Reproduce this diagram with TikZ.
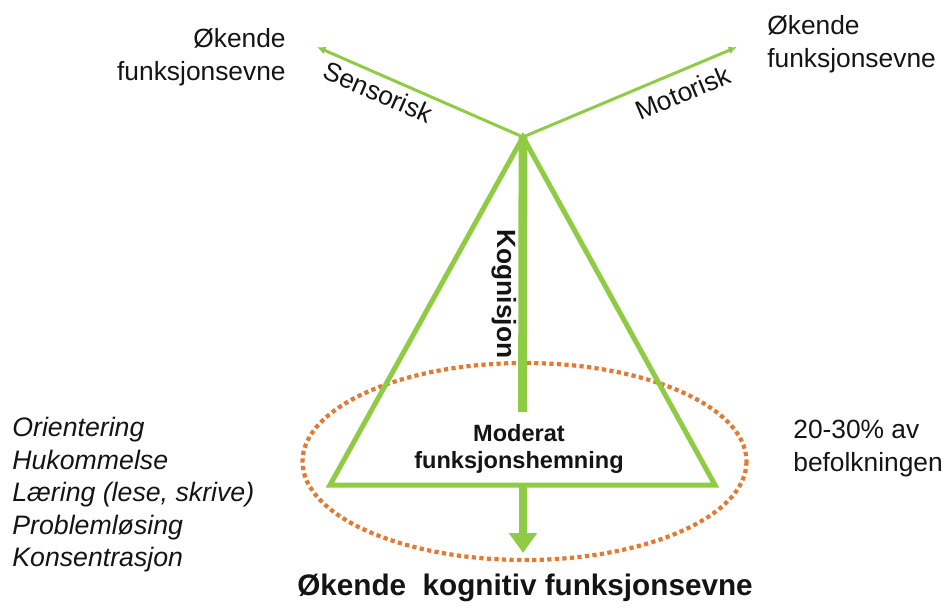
\documentclass[tikz,border=0pt]{standalone}
\usepackage{fontspec}
\setmainfont{Liberation Sans}
\usepackage{tikz}
\usetikzlibrary{arrows.meta}
\definecolor{Ink}{HTML}{141414}
\definecolor{Leaf}{HTML}{8FCB45}
\definecolor{Rust}{HTML}{E37A33}
\tikzset{
  tri/.style={draw=Leaf,line width=2.85pt},
  spoke/.style={draw=Leaf,line width=1.7pt,-{Latex[length=1.7mm,width=1.6mm]}},
  spine/.style={draw=Leaf,line width=5pt},
  drop/.style={draw=Leaf,fill=Leaf,line width=4.5pt,-{Triangle[length=4mm,width=5.4mm]}},
  ring/.style={draw=Rust,line width=2.4pt,dash pattern=on 2.4pt off 1.9pt},
  note/.style={inner sep=0pt,text=Ink,font=\fontsize{15}{18.6}\selectfont},
  boldnote/.style={inner sep=0pt,text=Ink,font=\bfseries\fontsize{13.4}{15.5}\selectfont,align=center},
  listnote/.style={note,font=\itshape\fontsize{15.2}{18.5}\selectfont,align=left}
}
\begin{document}
\begin{tikzpicture}[x=0.02cm,y=-0.02cm]
  \useasboundingbox (0,0) rectangle (948,610);
  \coordinate (apex) at (523,137);
  \coordinate (sens) at (317,47);
  \coordinate (mot) at (737,47);
  \coordinate (bl) at (330,485);
  \coordinate (br) at (715,485);
  \coordinate (kog) at (522.5,412);
  \coordinate (mid) at (523,485);
  \coordinate (down) at (523,553);
  \draw[ring] (524.5,461.5) ellipse [x radius=222,y radius=98.5];
  \draw[tri] (bl)--(apex)--(br)--cycle;
  \draw[spoke] (apex)--(sens);
  \draw[spoke] (apex)--(mot);
  \draw[spine] (apex)--(kog);
  \draw[drop] (mid)--(down);
  \node[note,rotate=-23.6] (sensor) at (378,92) {Sensorisk};
  \node[note,rotate=22.8] (motor) at (683,93) {Motorisk};
  \node[note,font=\bfseries\fontsize{15}{18}\selectfont,rotate=-90] (kogn) at (504,294) {Kognisjon};
  \node[note,align=right,anchor=north east] (gainl) at (286,28) {Økende\\funksjonsevne};
  \node[note,align=left,anchor=north west] (gainr) at (767,15) {Økende\\funksjonsevne};
  \node[boldnote,anchor=north] (moderat) at (519,424) {Moderat\\funksjonshemning};
  \node[note,align=left,anchor=north west] (share) at (793,420) {20-30\% av\\befolkningen};
  \node[listnote,anchor=north west] (skills) at (12,417)
    {Orientering\\Hukommelse\\Læring (lese, skrive)\\Problemløsing\\Konsentrasjon};
  \node[note,font=\bfseries\fontsize{16.9}{20}\selectfont,anchor=base] (title) at (525,595)
    {Økende\ \ kognitiv funksjonsevne};
\end{tikzpicture}
\end{document}
